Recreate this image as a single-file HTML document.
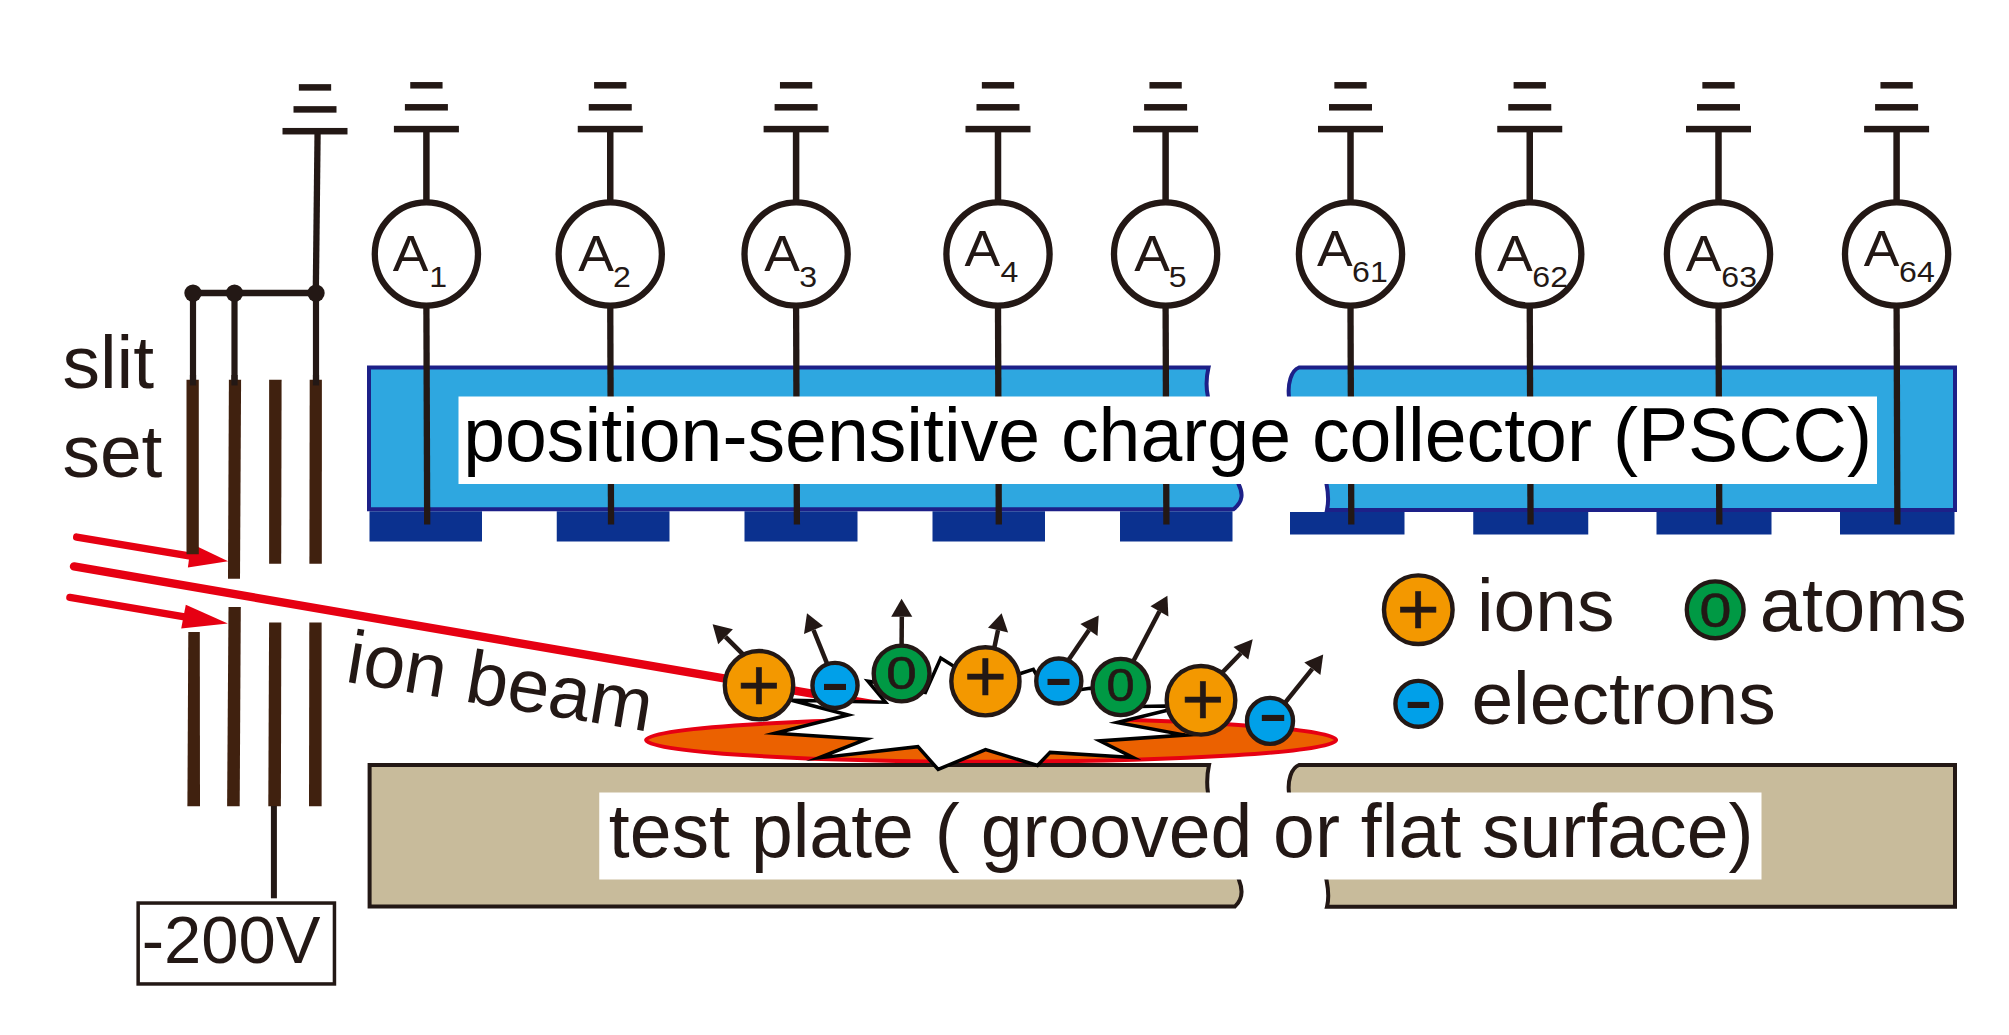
<!DOCTYPE html>
<html lang="en"><head><meta charset="utf-8"><title>PSCC ion beam diagram</title>
<style>html,body{margin:0;padding:0;background:#fff}svg{display:block}text{font-family:"Liberation Sans",Arial,Helvetica,sans-serif}</style></head><body>
<svg width="2009" height="1035" viewBox="0 0 2009 1035">
<rect width="2009" height="1035" fill="#fff"/>
<path d="M369,367.5 L1208.5,367.5 C1206.5,376 1206,388 1208,397 C1215,425 1232,455 1238.5,484 C1243,493 1243.5,501 1233.5,509.25 L369,509.25 Z" fill="#2ea7e0" stroke="#1d2088" stroke-width="4" stroke-linejoin="miter"/>
<path d="M1299,367.5 C1291,370.5 1287.5,384 1289,397 C1292,430 1320,455 1326.5,484 C1328.5,494 1328.5,503 1327,510 L1955,510 L1955,367.5 Z" fill="#2ea7e0" stroke="#1d2088" stroke-width="4" stroke-linejoin="miter"/>
<rect x="369.5" y="511.25" width="112.5" height="30.25" fill="#0b318f"/>
<rect x="556.75" y="511.25" width="112.75" height="30.25" fill="#0b318f"/>
<rect x="744.5" y="511.25" width="113.0" height="30.25" fill="#0b318f"/>
<rect x="932.5" y="511.25" width="112.5" height="30.25" fill="#0b318f"/>
<rect x="1120" y="511.25" width="112.5" height="30.25" fill="#0b318f"/>
<rect x="1290" y="512" width="114.5" height="22.5" fill="#0b318f"/>
<rect x="1473.25" y="512" width="115.0" height="22.5" fill="#0b318f"/>
<rect x="1656.5" y="512" width="115.0" height="22.5" fill="#0b318f"/>
<rect x="1840" y="512" width="114.5" height="22.5" fill="#0b318f"/>
<rect x="410.25" y="82.05" width="32.3" height="6.5" fill="#231815"/>
<rect x="404.90" y="104.05" width="43" height="6.5" fill="#231815"/>
<rect x="393.90" y="125.85" width="65" height="6.5" fill="#231815"/>
<line x1="426.4" y1="129" x2="426.4" y2="201" stroke="#231815" stroke-width="6.5"/>
<line x1="426.4" y1="306" x2="427.2" y2="524.5" stroke="#231815" stroke-width="6.3"/>
<circle cx="426.4" cy="254" r="51.6" fill="#fff" stroke="#231815" stroke-width="6.3"/>
<rect x="594.10" y="82.05" width="32.3" height="6.5" fill="#231815"/>
<rect x="588.75" y="104.05" width="43" height="6.5" fill="#231815"/>
<rect x="577.75" y="125.85" width="65" height="6.5" fill="#231815"/>
<line x1="610.25" y1="129" x2="610.25" y2="201" stroke="#231815" stroke-width="6.5"/>
<line x1="610.25" y1="306" x2="611.05" y2="524.5" stroke="#231815" stroke-width="6.3"/>
<circle cx="610.25" cy="254" r="51.6" fill="#fff" stroke="#231815" stroke-width="6.3"/>
<rect x="779.95" y="82.05" width="32.3" height="6.5" fill="#231815"/>
<rect x="774.60" y="104.05" width="43" height="6.5" fill="#231815"/>
<rect x="763.60" y="125.85" width="65" height="6.5" fill="#231815"/>
<line x1="796.1" y1="129" x2="796.1" y2="201" stroke="#231815" stroke-width="6.5"/>
<line x1="796.1" y1="306" x2="796.9" y2="524.5" stroke="#231815" stroke-width="6.3"/>
<circle cx="796.1" cy="254" r="51.6" fill="#fff" stroke="#231815" stroke-width="6.3"/>
<rect x="981.85" y="82.05" width="32.3" height="6.5" fill="#231815"/>
<rect x="976.50" y="104.05" width="43" height="6.5" fill="#231815"/>
<rect x="965.50" y="125.85" width="65" height="6.5" fill="#231815"/>
<line x1="998" y1="129" x2="998" y2="201" stroke="#231815" stroke-width="6.5"/>
<line x1="998" y1="306" x2="998.8" y2="524.5" stroke="#231815" stroke-width="6.3"/>
<circle cx="998" cy="254" r="51.6" fill="#fff" stroke="#231815" stroke-width="6.3"/>
<rect x="1149.45" y="82.05" width="32.3" height="6.5" fill="#231815"/>
<rect x="1144.10" y="104.05" width="43" height="6.5" fill="#231815"/>
<rect x="1133.10" y="125.85" width="65" height="6.5" fill="#231815"/>
<line x1="1165.6" y1="129" x2="1165.6" y2="201" stroke="#231815" stroke-width="6.5"/>
<line x1="1165.6" y1="306" x2="1166.3999999999999" y2="524.5" stroke="#231815" stroke-width="6.3"/>
<circle cx="1165.6" cy="254" r="51.6" fill="#fff" stroke="#231815" stroke-width="6.3"/>
<rect x="1334.35" y="82.05" width="32.3" height="6.5" fill="#231815"/>
<rect x="1329.00" y="104.05" width="43" height="6.5" fill="#231815"/>
<rect x="1318.00" y="125.85" width="65" height="6.5" fill="#231815"/>
<line x1="1350.5" y1="129" x2="1350.5" y2="201" stroke="#231815" stroke-width="6.5"/>
<line x1="1350.5" y1="306" x2="1351.3" y2="524.5" stroke="#231815" stroke-width="6.3"/>
<circle cx="1350.5" cy="254" r="51.6" fill="#fff" stroke="#231815" stroke-width="6.3"/>
<rect x="1513.60" y="82.05" width="32.3" height="6.5" fill="#231815"/>
<rect x="1508.25" y="104.05" width="43" height="6.5" fill="#231815"/>
<rect x="1497.25" y="125.85" width="65" height="6.5" fill="#231815"/>
<line x1="1529.75" y1="129" x2="1529.75" y2="201" stroke="#231815" stroke-width="6.5"/>
<line x1="1529.75" y1="306" x2="1530.55" y2="524.5" stroke="#231815" stroke-width="6.3"/>
<circle cx="1529.75" cy="254" r="51.6" fill="#fff" stroke="#231815" stroke-width="6.3"/>
<rect x="1702.35" y="82.05" width="32.3" height="6.5" fill="#231815"/>
<rect x="1697.00" y="104.05" width="43" height="6.5" fill="#231815"/>
<rect x="1686.00" y="125.85" width="65" height="6.5" fill="#231815"/>
<line x1="1718.5" y1="129" x2="1718.5" y2="201" stroke="#231815" stroke-width="6.5"/>
<line x1="1718.5" y1="306" x2="1719.3" y2="524.5" stroke="#231815" stroke-width="6.3"/>
<circle cx="1718.5" cy="254" r="51.6" fill="#fff" stroke="#231815" stroke-width="6.3"/>
<rect x="1880.45" y="82.05" width="32.3" height="6.5" fill="#231815"/>
<rect x="1875.10" y="104.05" width="43" height="6.5" fill="#231815"/>
<rect x="1864.10" y="125.85" width="65" height="6.5" fill="#231815"/>
<line x1="1896.6" y1="129" x2="1896.6" y2="201" stroke="#231815" stroke-width="6.5"/>
<line x1="1896.6" y1="306" x2="1897.3999999999999" y2="524.5" stroke="#231815" stroke-width="6.3"/>
<circle cx="1896.6" cy="254" r="51.6" fill="#fff" stroke="#231815" stroke-width="6.3"/>
<rect x="458.5" y="396.5" width="1418.5" height="87.5" fill="#fff"/>
<text transform="translate(392.80,270.60) scale(1.07,1.0)" font-size="50" fill="#231815" >A</text>
<text transform="translate(429.36,287.25) scale(1.1,1.0)" font-size="29.15" fill="#231815" >1</text>
<text transform="translate(578.15,270.60) scale(1.07,1.0)" font-size="50" fill="#231815" >A</text>
<text transform="translate(612.89,287.25) scale(1.1,1.0)" font-size="29.15" fill="#231815" >2</text>
<text transform="translate(764.15,270.60) scale(1.07,1.0)" font-size="50" fill="#231815" >A</text>
<text transform="translate(799.18,287.25) scale(1.1,1.0)" font-size="29.15" fill="#231815" >3</text>
<text transform="translate(964.40,265.60) scale(1.07,1.0)" font-size="50" fill="#231815" >A</text>
<text transform="translate(1000.51,282.25) scale(1.1,1.0)" font-size="29.15" fill="#231815" >4</text>
<text transform="translate(1134.15,270.60) scale(1.07,1.0)" font-size="50" fill="#231815" >A</text>
<text transform="translate(1168.72,287.25) scale(1.1,1.0)" font-size="29.15" fill="#231815" >5</text>
<text transform="translate(1316.90,265.60) scale(1.07,1.0)" font-size="50" fill="#231815" >A</text>
<text transform="translate(1352.12,282.25) scale(1.1,1.0)" font-size="29.15" fill="#231815" >61</text>
<text transform="translate(1496.90,270.60) scale(1.07,1.0)" font-size="50" fill="#231815" >A</text>
<text transform="translate(1532.37,287.25) scale(1.1,1.0)" font-size="29.15" fill="#231815" >62</text>
<text transform="translate(1685.65,270.60) scale(1.07,1.0)" font-size="50" fill="#231815" >A</text>
<text transform="translate(1721.37,287.25) scale(1.1,1.0)" font-size="29.15" fill="#231815" >63</text>
<text transform="translate(1863.65,265.60) scale(1.07,1.0)" font-size="50" fill="#231815" >A</text>
<text transform="translate(1899.12,282.25) scale(1.1,1.0)" font-size="29.15" fill="#231815" >64</text>
<text transform="translate(463.15,461.00)" font-size="75.23" fill="#000" >position-sensitive charge collector (PSCC)</text>
<rect x="298.85" y="84.15" width="32.3" height="6.5" fill="#231815"/>
<rect x="293.50" y="106.15" width="43" height="6.5" fill="#231815"/>
<rect x="282.50" y="127.95" width="65" height="6.5" fill="#231815"/>
<line x1="317.6" y1="131" x2="315.8" y2="293" stroke="#231815" stroke-width="6.3"/>
<line x1="193" y1="293.1" x2="316" y2="293.1" stroke="#231815" stroke-width="6.5"/>
<line x1="193" y1="293" x2="193" y2="385.4" stroke="#231815" stroke-width="6.2"/>
<circle cx="193" cy="293.1" r="8.7" fill="#231815"/>
<line x1="234.5" y1="293" x2="234.5" y2="385.4" stroke="#231815" stroke-width="6.2"/>
<circle cx="234.5" cy="293.1" r="8.7" fill="#231815"/>
<line x1="316" y1="293" x2="316" y2="385.4" stroke="#231815" stroke-width="6.2"/>
<circle cx="316" cy="293.1" r="8.7" fill="#231815"/>
<line x1="76.7" y1="537.1" x2="192" y2="556.4" stroke="#e60012" stroke-width="7.4" stroke-linecap="round"/>
<polygon points="228.1,561.2 187.9,567.5 191,543.5" fill="#e60012"/>
<line x1="69.9" y1="597.4" x2="186" y2="617.2" stroke="#e60012" stroke-width="7.4" stroke-linecap="round"/>
<polygon points="227.8,623.4 185.8,604.7 181.2,628.4" fill="#e60012"/>
<line x1="74" y1="566.4" x2="892" y2="707.3" stroke="#e60012" stroke-width="8.4" stroke-linecap="round"/>
<polygon points="186.5,379.8 198.8,379.8 198.8,554.3 186.5,554.3" fill="#40210f"/>
<polygon points="188.3,631.9 199.8,631.9 200,806.3 187.4,806.3" fill="#40210f"/>
<polygon points="228.9,379.8 241.1,379.8 240,578.7 228,578.7" fill="#40210f"/>
<polygon points="228.5,607 240.8,607 239.7,806.3 227.1,806.3" fill="#40210f"/>
<polygon points="269.1,379.8 281.6,379.8 281.2,563.7 269.1,563.7" fill="#40210f"/>
<polygon points="269.1,622.5 281.3,622.5 280.9,806.3 268.3,806.3" fill="#40210f"/>
<polygon points="309.7,379.8 321.9,379.8 321.8,563.7 309.4,563.7" fill="#40210f"/>
<polygon points="309.3,622.5 321.6,622.5 321.6,806.3 309,806.3" fill="#40210f"/>
<line x1="193" y1="375" x2="193" y2="385.4" stroke="#231815" stroke-width="6.2"/>
<line x1="234.5" y1="375" x2="234.5" y2="385.4" stroke="#231815" stroke-width="6.2"/>
<line x1="316" y1="375" x2="316" y2="385.4" stroke="#231815" stroke-width="6.2"/>
<line x1="273.9" y1="806" x2="273.9" y2="898.3" stroke="#231815" stroke-width="6"/>
<rect x="138.15" y="903.05" width="196.3" height="80.9" fill="#fff" stroke="#231815" stroke-width="3.5"/>
<text transform="translate(141.72,963.40)" font-size="67" fill="#231815" >-200V</text>
<text transform="translate(62.41,388.00)" font-size="75" fill="#231815" >slit</text>
<text transform="translate(62.41,477.30)" font-size="75" fill="#231815" >set</text>
<text transform="translate(344.00,681.40) rotate(9.4)" font-size="75" fill="#231815" >ion beam</text>
<ellipse cx="991.1" cy="740" rx="345" ry="21.7" fill="#eb6100" stroke="#e60012" stroke-width="4"/>
<path d="M369.6,765 L1209,765 C1207.3,773 1206.8,785 1208,793 C1215,822 1232,852 1239,880 C1243,890 1243,899 1235,906.4 L369.6,906.4 Z" fill="#c8bb9b" stroke="#231815" stroke-width="4"/>
<path d="M1299,765 C1291,768 1287.5,781 1289,793 C1292,826 1320,852 1326.5,880 C1328.5,890 1329,899 1327,906.7 L1955,906.7 L1955,765 Z" fill="#c8bb9b" stroke="#231815" stroke-width="4"/>
<rect x="599.25" y="792.5" width="1162.25" height="87" fill="#fff"/>
<text transform="translate(608.86,856.60)" font-size="75.17" fill="#231815" >test plate ( grooved or flat surface)</text>
<polygon points="791.5,700.3 885.48,702.17 867.9,681.21 880,683 925.38,692.5 940.77,658.06 953.33,665.95 985,680 1020.57,673.5 1033.3,669.31 1036,674 1078.12,690.05 1090.0,688.29 1120,690 1140,706.6 1165.3,706 1182,706.5 1167.48,710.2 1116.96,722.47 1185.06,735.1 1099.76,740.91 1133.0,757.43 1050.1,752.4 1037.49,765.42 985.59,749.66 938.18,769.41 917.9,746.64 818.87,757.87 866.37,739.14 774.94,733.27 848.29,714.97" fill="#fff" stroke="#000" stroke-width="3.5" stroke-linejoin="miter" stroke-miterlimit="40"/>
<line x1="745.5" y1="656.9" x2="725.5" y2="636.8" stroke="#231815" stroke-width="4.5"/>
<polygon points="712.6,624.2 732.9,629.2 718.2,644.3" fill="#231815"/>
<line x1="827.8" y1="665.4" x2="813.5" y2="630.0" stroke="#231815" stroke-width="4.5"/>
<polygon points="807,613.3 804,634 823.1,625.9" fill="#231815"/>
<line x1="901.6" y1="647.0" x2="901.8" y2="616.7" stroke="#231815" stroke-width="4.5"/>
<polygon points="901.6,598.8 891.2,616.7 912.3,616.7" fill="#231815"/>
<line x1="993.9" y1="649.8" x2="998.0" y2="630.1" stroke="#231815" stroke-width="4.5"/>
<polygon points="1001.6,613.2 988,627.7 1008.1,632.5" fill="#231815"/>
<line x1="1067.8" y1="661.1" x2="1089.0" y2="629.9" stroke="#231815" stroke-width="4.5"/>
<polygon points="1098.7,615.5 1080.4,623.9 1097.5,635.9" fill="#231815"/>
<line x1="1132.9" y1="662.0" x2="1159.5" y2="611.3" stroke="#231815" stroke-width="4.5"/>
<polygon points="1167.4,595.7 1150.5,606.3 1168.4,616.4" fill="#231815"/>
<line x1="1221.1" y1="673.7" x2="1240.9" y2="653.2" stroke="#231815" stroke-width="4.5"/>
<polygon points="1252.7,639.3 1233.5,646.9 1248.3,659.5" fill="#231815"/>
<line x1="1284.3" y1="703.7" x2="1312.3" y2="668.8" stroke="#231815" stroke-width="4.5"/>
<polygon points="1323.2,654.6 1304.3,662.6 1320.4,674.9" fill="#231815"/>
<circle cx="759" cy="685.2" r="34.20" fill="#f39800" stroke="#231815" stroke-width="4.4"/>
<text x="737.61" y="710.67" font-size="73.3" fill="#231815" stroke="#231815" stroke-width="0.6">+</text>
<circle cx="835" cy="685.4" r="22.55" fill="#00a0e9" stroke="#231815" stroke-width="4.4"/>
<text transform="translate(835.00,687.40) scale(1.170,1)" x="-12.82" y="20.45" font-size="77" fill="#231815">-</text>
<circle cx="901.6" cy="673.5" r="27.90" fill="#009944" stroke="#231815" stroke-width="4.4"/>
<text transform="translate(901.40,673.40) scale(1.198,1)" x="-12.73" y="15.75" font-size="45.76" fill="#231815" stroke="#231815" stroke-width="0.6">0</text>
<circle cx="985.4" cy="681.3" r="34.10" fill="#f39800" stroke="#231815" stroke-width="4.4"/>
<text x="964.11" y="702.37" font-size="73.3" fill="#231815" stroke="#231815" stroke-width="0.6">+</text>
<circle cx="1058.8" cy="681" r="22.55" fill="#00a0e9" stroke="#231815" stroke-width="4.4"/>
<text transform="translate(1058.60,682.80) scale(1.170,1)" x="-12.82" y="20.45" font-size="77" fill="#231815">-</text>
<circle cx="1120.7" cy="687" r="28.10" fill="#009944" stroke="#231815" stroke-width="4.4"/>
<text transform="translate(1120.50,685.40) scale(1.083,1)" x="-13.00" y="16.09" font-size="46.75" fill="#231815" stroke="#231815" stroke-width="0.6">0</text>
<circle cx="1201" cy="700.3" r="34.30" fill="#f39800" stroke="#231815" stroke-width="4.4"/>
<text x="1181.51" y="724.67" font-size="73.3" fill="#231815" stroke="#231815" stroke-width="0.6">+</text>
<circle cx="1270" cy="720.9" r="23.00" fill="#00a0e9" stroke="#231815" stroke-width="4.4"/>
<text transform="translate(1273.00,718.90) scale(1.192,1)" x="-12.82" y="20.45" font-size="77" fill="#231815">-</text>
<circle cx="1418.3" cy="609.7" r="34.30" fill="#f39800" stroke="#231815" stroke-width="4.4"/>
<text x="1396.81" y="635.07" font-size="73.3" fill="#231815" stroke="#231815" stroke-width="0.6">+</text>
<circle cx="1418.3" cy="703.8" r="22.90" fill="#00a0e9" stroke="#231815" stroke-width="4.4"/>
<text transform="translate(1418.30,705.50) scale(1.144,1)" x="-12.82" y="20.45" font-size="77" fill="#231815">-</text>
<circle cx="1715.2" cy="609.8" r="28.40" fill="#009944" stroke="#231815" stroke-width="4.4"/>
<text transform="translate(1715.40,609.80) scale(1.180,1)" x="-13.51" y="16.73" font-size="48.59" fill="#231815" stroke="#231815" stroke-width="0.6">0</text>
<text transform="translate(1476.88,630.90)" font-size="75" fill="#231815" >ions</text>
<text transform="translate(1759.67,630.90)" font-size="76" fill="#231815" >atoms</text>
<text transform="translate(1471.41,724.30)" font-size="75" fill="#231815" >electrons</text>
</svg></body></html>
